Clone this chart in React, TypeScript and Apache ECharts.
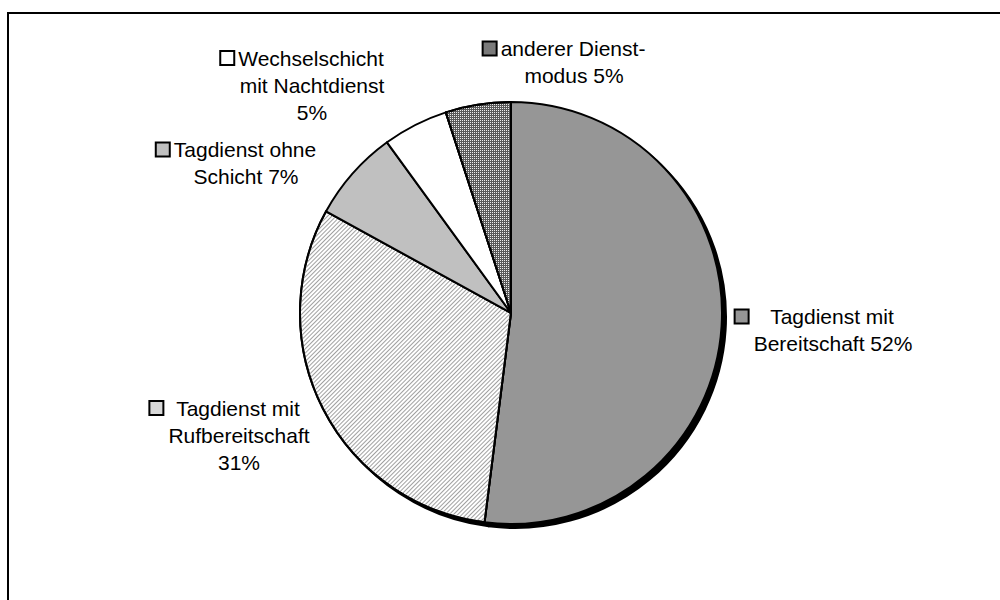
import React, { useEffect, useRef } from "react";
import * as echarts from "echarts";

const categories = [
  "Tagdienst mit Bereitschaft",
  "Tagdienst mit Rufbereitschaft",
  "Tagdienst ohne Schicht",
  "Wechselschicht mit Nachtdienst",
  "anderer Dienstmodus",
];
const values = [52, 31, 7, 5, 5];
const labelTemplates = [
  "Tagdienst mit\nBereitschaft {p}",
  "Tagdienst mit\nRufbereitschaft\n{p}",
  "Tagdienst ohne\nSchicht {p}",
  "Wechselschicht\nmit Nachtdienst\n{p}",
  "anderer Dienst-\nmodus {p}",
];
const labelPositions = [
  [833, 330],
  [239, 435],
  [246, 163],
  [312, 85],
  [574, 62],
];
const fillColors = ["#969696", "#ffffff", "#c0c0c0", "#ffffff", "#5a5a5a"];
const keyColors = ["#969696", "#d8d8d8", "#c0c0c0", "#ffffff", "#7a7a7a"];

const FONT_SIZE = 21;
const FONT_FAMILY = '"Liberation Sans", Arial, sans-serif';
const LINE_H = 27;

function measure(text: string): number {
  const c = document.createElement("canvas");
  const ctx = c.getContext("2d")!;
  ctx.font = `${FONT_SIZE}px ${FONT_FAMILY}`;
  return ctx.measureText(text).width;
}

export default function App() {
  const ref = useRef<HTMLDivElement>(null);
  useEffect(() => {
    if (!ref.current) return;
    const chart = echarts.init(ref.current, undefined, { renderer: "svg" });
    const total = values.reduce((a, b) => a + b, 0);

    const rich: Record<string, any> = {
      t: { fontSize: FONT_SIZE, fontFamily: FONT_FAMILY, color: "#000", lineHeight: LINE_H },
    };
    const labelTexts = categories.map((_, i) => {
      const pct = Math.round((values[i] / total) * 100);
      const lines = labelTemplates[i].replace("{p}", pct + "%").split("\n");
      const widths = lines.map(measure);
      const maxW = Math.max(...widths);
      const gap = (maxW - widths[0]) / 2 + 5;
      const pad = 14 + gap;
      rich["sq" + i] = {
        width: 12,
        height: 12,
        backgroundColor: keyColors[i],
        borderColor: "#000",
        borderWidth: 2,
        lineHeight: LINE_H,
      };
      rich["g" + i] = { width: gap, lineHeight: LINE_H };
      rich["p" + i] = { width: pad, lineHeight: LINE_H };
      return lines
        .map((l, k) => (k === 0 ? `{sq${i}|}{g${i}|}{t|${l}}{p${i}|}` : `{t|${l}}`))
        .join("\n");
    });

    const decals: any[] = [
      null,
      {
        symbol: "rect",
        color: "#a0a0a0",
        dashArrayX: [1, 0],
        dashArrayY: [1, 1.8],
        rotation: -Math.PI / 4,
        symbolSize: 1,
      },
      null,
      null,
      {
        symbol: "rect",
        color: "#eeeeee",
        dashArrayX: [1, 1],
        dashArrayY: [1, 1],
        symbolSize: 1,
      },
    ];

    const mainData = categories.map((name, i) => {
      const item: any = {
        name,
        value: values[i],
        itemStyle: { color: fillColors[i] },
      };
      if (decals[i]) item.itemStyle.decal = decals[i];
      return item;
    });
    const shadowData = categories.map((name, i) => ({ name, value: values[i] }));

    chart.setOption({
      animation: false,
      graphic: [
        {
          type: "rect",
          shape: { x: 8, y: 13, width: 1100, height: 700 },
          style: { fill: "none", stroke: "#000", lineWidth: 2 },
          silent: true,
        },
      ],
      series: [
        {
          type: "pie",
          silent: true,
          center: [515, 317],
          radius: 211,
          startAngle: 90,
          data: shadowData,
          itemStyle: { color: "#000", borderColor: "#000", borderWidth: 2 },
          label: { show: false },
          labelLine: { show: false },
        },
        {
          type: "pie",
          center: [511, 313],
          radius: 211,
          startAngle: 90,
          avoidLabelOverlap: false,
          data: mainData,
          itemStyle: { borderColor: "#000", borderWidth: 2 },
          label: {
            show: true,
            position: "outside",
            alignTo: "none",
            formatter: (p: any) => labelTexts[p.dataIndex],
            rich,
            align: "center",
          },
          labelLine: { show: false },
          labelLayout: (p: any) => ({
            x: labelPositions[p.dataIndex][0],
            y: labelPositions[p.dataIndex][1],
            align: "center",
            verticalAlign: "middle",
          }),
          emphasis: { disabled: true },
        },
      ],
    });
    return () => chart.dispose();
  }, []);
  return (
    <div
      ref={ref}
      style={{ position: "fixed", left: 0, top: 0, width: 1000, height: 600, background: "#fff" }}
    />
  );
}
